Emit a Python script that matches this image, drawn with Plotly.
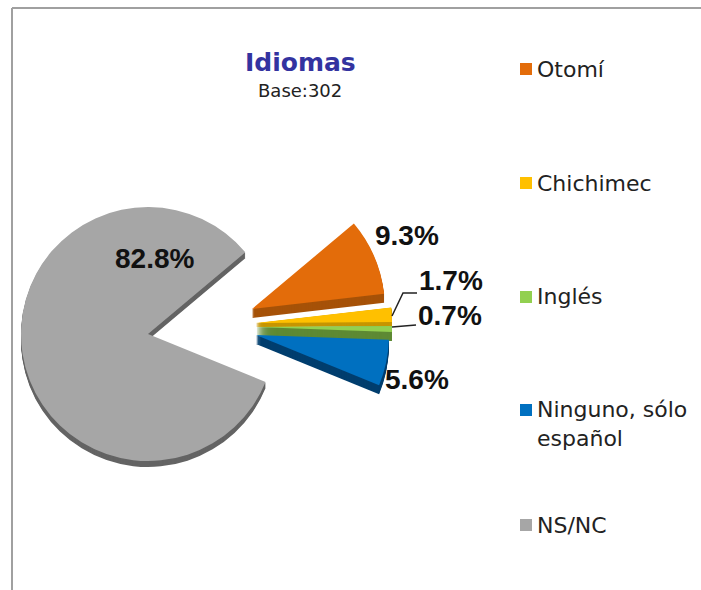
import plotly.graph_objects as go

W, H = 701, 590

CATEGORIES = ["Otomí", "Chichimec", "Inglés", "Ninguno, sólo<br>español", "NS/NC"]
VALUES = [9.3, 1.7, 0.7, 5.6, 82.8]
COLORS = ["#E36C0A", "#FFC000", "#92D050", "#0070C0", "#A6A6A6"]
SIDE_COLORS = ["#A65208", "#C79600", "#5F8A35", "#003E6E", "#646464"]
VALUE_LABELS = ["9.3%", "1.7%", "0.7%", "5.6%", "82.8%"]
TITLE = "Idiomas"
SUBTITLE = "Base:302"

# slice placement in pixels: apex x, apex y, radius, extrusion depth, extrusion step
PLACEMENT = [
    (252, 309, 133, 9, 1),
    (256, 323, 136, 4, 0.25),
    (256, 327, 136, 9, 0.25),
    (256, 335, 133, 9, 1),
    (148, 334, 127, 6, 1),
]
LABEL_POS = [(373, 235), (417, 281), (416, 315), (383, 380), (113, 258)]
LEGEND_Y = [69, 183, 297, 410, 525]
ROTATION = 50


def px(x):
    return x / W


def py(y):
    return 1 - y / H


def slice_trace(i, dy, color):
    cx, cy, r, _, _ = PLACEMENT[i]
    cy = cy + dy
    colors = ["rgba(0,0,0,0)"] * len(VALUES)
    colors[i] = color
    return go.Pie(
        labels=CATEGORIES,
        values=VALUES,
        sort=False,
        direction="clockwise",
        rotation=ROTATION,
        textinfo="none",
        hoverinfo="label+percent" if dy == 0 else "skip",
        showlegend=False,
        marker=dict(colors=colors, line=dict(width=0)),
        domain=dict(x=[px(cx - r), px(cx + r)], y=[py(cy + r), py(cy - r)]),
    )


traces = []
for i in [4, 0, 1, 2, 3]:
    depth, step = PLACEMENT[i][3], PLACEMENT[i][4]
    n = int(depth / step)
    for k in range(n, 0, -1):
        traces.append(slice_trace(i, k * step, SIDE_COLORS[i]))
    traces.append(slice_trace(i, 0, COLORS[i]))

annotations = [
    dict(x=px(300), y=py(62), text=f"<b>{TITLE}</b>", showarrow=False, xanchor="center", yanchor="middle",
         font=dict(family="DejaVu Sans", size=25, color="#3333A0")),
    dict(x=px(300), y=py(90), text=SUBTITLE, showarrow=False, xanchor="center", yanchor="middle",
         font=dict(family="DejaVu Sans", size=18, color="#222222")),
]
for (lx, ly), t in zip(LABEL_POS, VALUE_LABELS):
    annotations.append(dict(x=px(lx), y=py(ly), text=f"<b>{t}</b>", showarrow=False, xanchor="left", yanchor="middle",
                            font=dict(family="Liberation Sans", size=28, color="#111111")))
for name, ly in zip(CATEGORIES, LEGEND_Y):
    annotations.append(dict(x=px(535), y=py(ly + (14 if "<br>" in name else 0)), text=name, showarrow=False,
                            xanchor="left", yanchor="middle", align="left",
                            font=dict(family="DejaVu Sans", size=22, color="#222222")))

shapes = [
    dict(type="line", xref="paper", yref="paper", x0=px(12), x1=px(12), y0=py(8), y1=py(590),
         line=dict(color="#A0A0A0", width=2)),
    dict(type="line", xref="paper", yref="paper", x0=px(12), x1=px(701), y0=py(8), y1=py(8),
         line=dict(color="#A0A0A0", width=2)),
    dict(type="path", xref="paper", yref="paper",
         path=f"M {px(392)} {py(316)} L {px(403)} {py(293)} L {px(417)} {py(293)}",
         line=dict(color="#222222", width=1.5)),
    dict(type="line", xref="paper", yref="paper", x0=px(392), x1=px(416), y0=py(327), y1=py(325),
         line=dict(color="#222222", width=1.5)),
]
for c, ly in zip(COLORS, LEGEND_Y):
    shapes.append(dict(type="rect", xref="paper", yref="paper", x0=px(520), x1=px(532), y0=py(ly + 6), y1=py(ly - 6),
                       fillcolor=c, line=dict(width=0)))

fig = go.Figure(traces)
fig.update_layout(
    width=W, height=H, margin=dict(l=0, r=0, t=0, b=0), autosize=False,
    paper_bgcolor="white", showlegend=False,
    annotations=annotations, shapes=shapes,
)
fig.write_html("out.html", config=dict(displayModeBar=False),
               post_script="document.body.style.margin='0';document.body.style.overflow='hidden';")
